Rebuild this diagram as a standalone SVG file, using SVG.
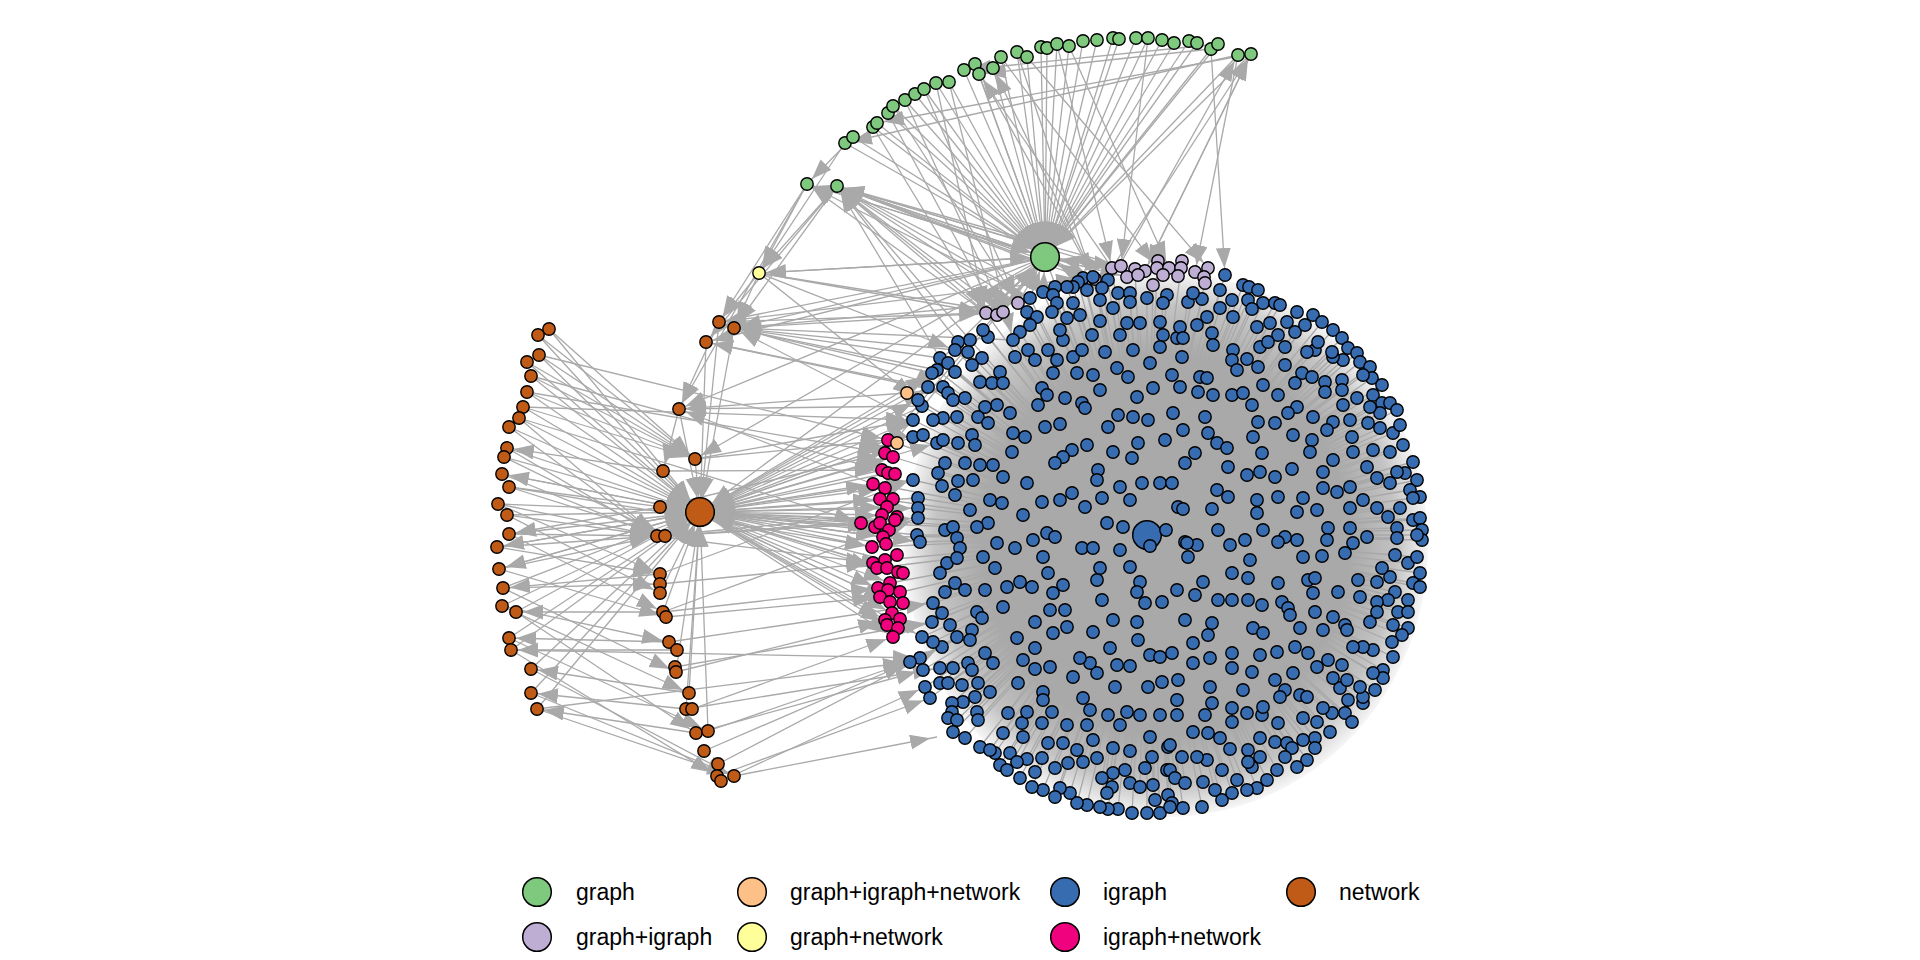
<svg xmlns="http://www.w3.org/2000/svg" width="1920" height="960" viewBox="0 0 1920 960">
<style>
.e{fill:none;stroke:#a9a9a9;stroke-width:1.3}
.ah path{marker-end:url(#ah)}
.as path{marker-end:url(#as)}
.lg{font-family:"Liberation Sans",Arial,Helvetica,sans-serif;font-size:23px;fill:#000}
.hub{stroke:#000;stroke-width:1.5}
</style>
<defs>
<marker id="as" markerUnits="userSpaceOnUse" markerWidth="21" markerHeight="16" refX="27" refY="7.5" orient="auto"><path d="M0,0L20,7.5L0,15Z" fill="#a9a9a9"/></marker>
<marker id="ah" markerUnits="userSpaceOnUse" markerWidth="21" markerHeight="16" refX="35" refY="7.5" orient="auto"><path d="M0,0L20,7.5L0,15Z" fill="#a9a9a9"/></marker>
<radialGradient id="dg"><stop offset="0" stop-color="#a9a9a9"/><stop offset="0.7" stop-color="#a9a9a9"/><stop offset="0.88" stop-color="#a9a9a9" stop-opacity="0.7"/><stop offset="1" stop-color="#a9a9a9" stop-opacity="0.1"/></radialGradient>
<circle id="n" r="6.2" stroke="#000" stroke-width="1.4"/>
</defs>
<rect width="1920" height="960" fill="#fff"/>
<g id="connectors" class="e">
<ellipse cx="1166" cy="545" rx="262" ry="272" fill="url(#dg)" stroke="none"/>
<path id="hub-edges" d="M1147 535 1083 278M1147 535 1093 277M1147 535 1108 280M1147 535 1102 288M1147 535 1118 293M1147 535 1130 293M1147 535 1147 298M1147 535 1167 295M1147 535 1163 303M1147 535 1130 302M1147 535 1100 300M1147 535 1087 290M1147 535 1078 282M1147 535 1073 287M1147 535 1067 287M1147 535 1055 287M1147 535 1043 292M1147 535 1053 295M1147 535 1030 298M1147 535 1057 303M1147 535 1073 303M1147 535 1080 315M1147 535 1052 312M1147 535 1027 312M1147 535 1037 317M1147 535 1067 318M1147 535 1100 321M1147 535 1113 308M1147 535 1127 323M1147 535 1140 323M1147 535 1160 322M1147 535 1163 335M1147 535 1160 347M1147 535 1177 338M1147 535 1120 335M1147 535 1092 335M1147 535 1063 340M1147 535 1060 330M1147 535 1030 325M1147 535 1020 332M1147 535 1013 340M1147 535 988 337M1147 535 983 330M1147 535 970 340M1147 535 958 342M1147 535 955 350M1147 535 940 358M1147 535 948 363M1147 535 968 352M1147 535 982 358M1147 535 972 365M1147 535 955 372M1147 535 937 370M1147 535 932 373M1147 535 928 387M1147 535 943 387M1147 535 948 393M1147 535 953 400M1147 535 965 398M1147 535 980 382M1147 535 992 383M1147 535 1000 372M1147 535 1003 383M1147 535 1015 357M1147 535 1028 350M1147 535 1035 360M1147 535 1048 350M1147 535 1057 360M1147 535 1073 357M1147 535 1082 350M1147 535 1053 373M1147 535 1077 373M1147 535 1093 375M1147 535 1117 368M1147 535 1128 377M1147 535 1105 352M1147 535 1133 350M1147 535 1150 363M1147 535 1172 375M1147 535 1180 387M1147 535 1153 388M1147 535 1137 397M1147 535 1100 390M1147 535 1082 403M1147 535 1085 408M1147 535 1065 398M1147 535 1042 388M1147 535 1047 395M1147 535 1038 405M1147 535 1010 413M1147 535 997 405M1147 535 985 407M1147 535 978 417M1147 535 988 423M1147 535 957 417M1147 535 943 418M1147 535 933 420M1147 535 922 406M1147 535 918 400M1147 535 913 420M1147 535 913 437M1147 535 923 435M1147 535 937 443M1147 535 943 440M1147 535 958 443M1147 535 972 435M1147 535 975 445M1147 535 1013 433M1147 535 1025 437M1147 535 1045 427M1147 535 1060 424M1147 535 1087 445M1147 535 1072 450M1147 535 1063 457M1147 535 1055 463M1147 535 1113 452M1147 535 1132 458M1147 535 1138 443M1147 535 1165 440M1147 535 1108 427M1147 535 1118 415M1147 535 1133 417M1147 535 1148 420M1147 535 1173 413M1147 535 1098 470M1147 535 1097 480M1147 535 1120 487M1147 535 1142 483M1147 535 1160 483M1147 535 1172 483M1147 535 1178 507M1147 535 1130 500M1147 535 1102 498M1147 535 1085 507M1147 535 1072 493M1147 535 1060 500M1147 535 1042 502M1147 535 1027 483M1147 535 1003 477M1147 535 993 465M1147 535 980 465M1147 535 965 463M1147 535 945 463M1147 535 938 473M1147 535 942 486M1147 535 958 481M1147 535 973 480M1147 535 955 495M1147 535 1012 452M1147 535 990 500M1147 535 1002 503M1147 535 970 510M1147 535 1023 515M1147 535 1047 533M1147 535 1055 537M1147 535 1033 540M1147 535 988 523M1147 535 977 527M1147 535 945 530M1147 535 953 527M1147 535 957 538M1147 535 917 535M1147 535 920 542M1147 535 913 480M1147 535 918 498M1147 535 918 508M1147 535 918 518M1147 535 1107 523M1147 535 1123 527M1147 535 1167 530M1147 535 997 543M1147 535 1015 548M1147 535 1225 275M1147 535 1220 290M1147 535 1232 300M1147 535 1243 285M1147 535 1249 287M1147 535 1258 290M1147 535 1248 300M1147 535 1263 303M1147 535 1252 309M1147 535 1233 317M1147 535 1220 308M1147 535 1202 299M1147 535 1188 302M1147 535 1193 293M1147 535 1207 317M1147 535 1197 325M1147 535 1180 327M1147 535 1183 338M1147 535 1212 333M1147 535 1213 345M1147 535 1182 357M1147 535 1233 350M1147 535 1232 360M1147 535 1247 359M1147 535 1237 370M1147 535 1258 367M1147 535 1260 347M1147 535 1257 327M1147 535 1270 323M1147 535 1275 303M1147 535 1280 305M1147 535 1297 312M1147 535 1287 322M1147 535 1295 332M1147 535 1305 325M1147 535 1313 315M1147 535 1322 322M1147 535 1333 330M1147 535 1342 338M1147 535 1348 348M1147 535 1357 353M1147 535 1360 362M1147 535 1370 367M1147 535 1372 378M1147 535 1382 385M1147 535 1363 375M1147 535 1343 360M1147 535 1333 357M1147 535 1332 352M1147 535 1315 350M1147 535 1307 352M1147 535 1318 342M1147 535 1278 335M1147 535 1285 347M1147 535 1285 365M1147 535 1268 342M1147 535 1302 373M1147 535 1312 377M1147 535 1295 383M1147 535 1325 382M1147 535 1325 392M1147 535 1342 380M1147 535 1342 390M1147 535 1357 398M1147 535 1373 395M1147 535 1382 403M1147 535 1390 403M1147 535 1397 410M1147 535 1380 413M1147 535 1370 407M1147 535 1343 405M1147 535 1333 422M1147 535 1327 430M1147 535 1313 417M1147 535 1297 407M1147 535 1288 413M1147 535 1278 395M1147 535 1263 385M1147 535 1252 405M1147 535 1232 395M1147 535 1243 393M1147 535 1213 395M1147 535 1198 392M1147 535 1200 377M1147 535 1207 378M1147 535 1183 430M1147 535 1205 417M1147 535 1208 433M1147 535 1217 443M1147 535 1227 448M1147 535 1195 453M1147 535 1185 463M1147 535 1228 467M1147 535 1247 475M1147 535 1260 472M1147 535 1275 477M1147 535 1292 469M1147 535 1262 453M1147 535 1253 437M1147 535 1258 422M1147 535 1275 423M1147 535 1293 435M1147 535 1312 440M1147 535 1310 452M1147 535 1333 460M1147 535 1323 472M1147 535 1353 452M1147 535 1352 437M1147 535 1350 420M1147 535 1368 423M1147 535 1380 428M1147 535 1393 433M1147 535 1400 425M1147 535 1403 445M1147 535 1413 462M1147 535 1405 473M1147 535 1390 452M1147 535 1373 450M1147 535 1367 467M1147 535 1377 478M1147 535 1390 483M1147 535 1397 472M1147 535 1417 480M1147 535 1410 490M1147 535 1420 497M1147 535 1413 498M1147 535 1400 508M1147 535 1388 517M1147 535 1377 508M1147 535 1363 500M1147 535 1350 508M1147 535 1350 487M1147 535 1337 492M1147 535 1323 488M1147 535 1303 498M1147 535 1297 512M1147 535 1317 510M1147 535 1328 528M1147 535 1327 540M1147 535 1350 528M1147 535 1367 537M1147 535 1353 543M1147 535 1397 528M1147 535 1397 538M1147 535 1413 520M1147 535 1420 518M1147 535 1422 530M1147 535 1422 540M1147 535 1417 535M1147 535 1297 540M1147 535 1285 537M1147 535 1278 542M1147 535 1263 530M1147 535 1245 540M1147 535 1218 530M1147 535 1197 545M1147 535 1185 542M1147 535 1212 509M1147 535 1228 497M1147 535 1217 490M1147 535 1183 509M1147 535 1257 500M1147 535 1257 513M1147 535 1278 497M1147 535 960 548M1147 535 947 563M1147 535 940 573M1147 535 955 583M1147 535 965 590M1147 535 945 592M1147 535 957 558M1147 535 983 557M1147 535 995 568M1147 535 1043 557M1147 535 1048 573M1147 535 1020 582M1147 535 1032 587M1147 535 1007 587M1147 535 985 590M1147 535 1003 607M1147 535 977 612M1147 535 982 618M1147 535 972 630M1147 535 970 640M1147 535 957 637M1147 535 942 647M1147 535 933 642M1147 535 922 637M1147 535 933 603M1147 535 942 613M1147 535 932 622M1147 535 950 625M1147 535 1053 593M1147 535 1063 585M1147 535 1050 610M1147 535 1065 610M1147 535 1067 627M1147 535 1053 633M1147 535 1035 622M1147 535 1017 638M1147 535 1035 648M1147 535 1023 660M1147 535 1035 669M1147 535 1050 667M1147 535 993 663M1147 535 985 653M1147 535 968 663M1147 535 972 670M1147 535 953 668M1147 535 940 668M1147 535 920 658M1147 535 910 662M1147 535 923 670M1147 535 925 687M1147 535 930 698M1147 535 940 683M1147 535 948 683M1147 535 962 685M1147 535 978 683M1147 535 990 692M1147 535 975 697M1147 535 963 702M1147 535 952 703M1147 535 952 712M1147 535 948 718M1147 535 957 720M1147 535 977 712M1147 535 978 720M1147 535 965 738M1147 535 953 732M1147 535 980 747M1147 535 995 753M1147 535 1003 733M1147 535 1008 713M1147 535 1022 723M1147 535 1023 737M1147 535 1027 712M1147 535 1018 683M1147 535 1043 692M1147 535 1043 700M1147 535 1052 712M1147 535 1042 723M1147 535 1067 725M1147 535 1048 743M1147 535 1063 743M1147 535 1077 750M1147 535 1068 763M1147 535 1083 762M1147 535 1097 758M1147 535 1093 740M1147 535 1087 725M1147 535 1090 710M1147 535 1083 698M1147 535 1073 677M1147 535 1097 673M1147 535 1090 663M1147 535 1080 658M1147 535 1115 687M1147 535 1117 665M1147 535 1130 666M1147 535 1148 687M1147 535 1162 682M1147 535 1150 655M1147 535 1160 657M1147 535 1172 653M1147 535 1177 700M1147 535 1160 715M1147 535 1140 715M1147 535 1127 712M1147 535 1120 725M1147 535 1108 715M1147 535 1150 737M1147 535 1168 747M1147 535 1113 748M1147 535 1130 751M1147 535 1152 757M1147 535 1145 768M1147 535 1125 770M1147 535 1113 773M1147 535 1102 778M1147 535 1112 787M1147 535 1107 793M1147 535 1130 783M1147 535 1140 787M1147 535 1153 785M1147 535 1167 770M1147 535 1155 800M1147 535 1168 795M1147 535 1172 803M1147 535 1160 813M1147 535 1147 813M1147 535 1132 813M1147 535 1118 809M1147 535 1108 809M1147 535 1100 807M1147 535 1087 805M1147 535 1077 803M1147 535 1070 793M1147 535 1060 788M1147 535 1055 797M1147 535 1043 790M1147 535 1032 787M1147 535 1020 778M1147 535 1035 772M1147 535 1055 768M1147 535 1042 758M1147 535 1027 759M1147 535 1010 753M1147 535 1000 765M1147 535 1007 770M1147 535 1017 762M1147 535 990 750M1147 535 1102 600M1147 535 1097 580M1147 535 1100 568M1147 535 1130 567M1147 535 1140 582M1147 535 1137 592M1147 535 1145 603M1147 535 1162 602M1147 535 1177 590M1147 535 1137 622M1147 535 1138 640M1147 535 1113 620M1147 535 1093 632M1147 535 1110 648M1147 535 1082 548M1147 535 1093 548M1147 535 1120 550M1147 535 1187 543M1147 535 1188 557M1147 535 1230 545M1147 535 1345 553M1147 535 1322 556M1147 535 1303 557M1147 535 1250 560M1147 535 1232 573M1147 535 1248 578M1147 535 1278 583M1147 535 1308 580M1147 535 1315 578M1147 535 1313 593M1147 535 1338 592M1147 535 1358 580M1147 535 1360 597M1147 535 1377 582M1147 535 1390 577M1147 535 1382 568M1147 535 1395 555M1147 535 1408 563M1147 535 1417 557M1147 535 1420 573M1147 535 1413 583M1147 535 1420 587M1147 535 1408 600M1147 535 1395 592M1147 535 1388 600M1147 535 1377 602M1147 535 1370 622M1147 535 1377 612M1147 535 1398 612M1147 535 1408 612M1147 535 1393 625M1147 535 1408 628M1147 535 1402 635M1147 535 1392 642M1147 535 1393 657M1147 535 1383 670M1147 535 1373 650M1147 535 1363 647M1147 535 1353 647M1147 535 1342 665M1147 535 1328 660M1147 535 1317 667M1147 535 1308 653M1147 535 1295 647M1147 535 1293 673M1147 535 1300 695M1147 535 1307 697M1147 535 1285 690M1147 535 1280 697M1147 535 1275 680M1147 535 1260 655M1147 535 1277 652M1147 535 1252 672M1147 535 1232 668M1147 535 1232 653M1147 535 1210 658M1147 535 1193 663M1147 535 1193 643M1147 535 1178 680M1147 535 1210 687M1147 535 1243 690M1147 535 1247 713M1147 535 1262 715M1147 535 1263 707M1147 535 1232 708M1147 535 1232 722M1147 535 1212 703M1147 535 1205 715M1147 535 1177 715M1147 535 1193 732M1147 535 1208 733M1147 535 1220 738M1147 535 1230 749M1147 535 1248 750M1147 535 1260 738M1147 535 1275 742M1147 535 1278 723M1147 535 1303 718M1147 535 1317 722M1147 535 1332 713M1147 535 1323 708M1147 535 1345 713M1147 535 1352 722M1147 535 1363 703M1147 535 1363 697M1147 535 1348 700M1147 535 1340 688M1147 535 1347 680M1147 535 1333 678M1147 535 1360 687M1147 535 1375 690M1147 535 1383 678M1147 535 1373 673M1147 535 1330 732M1147 535 1315 738M1147 535 1303 740M1147 535 1287 743M1147 535 1292 748M1147 535 1285 757M1147 535 1307 760M1147 535 1297 767M1147 535 1277 770M1147 535 1267 780M1147 535 1257 788M1147 535 1247 790M1147 535 1237 780M1147 535 1222 770M1147 535 1207 760M1147 535 1197 757M1147 535 1182 757M1147 535 1170 745M1147 535 1170 770M1147 535 1175 778M1147 535 1185 783M1147 535 1203 782M1147 535 1215 790M1147 535 1222 800M1147 535 1232 793M1147 535 1202 807M1147 535 1183 808M1147 535 1170 807M1147 535 1252 767M1147 535 1248 762M1147 535 1260 757M1147 535 1315 748M1147 535 1323 630M1147 535 1345 625M1147 535 1347 630M1147 535 1300 628M1147 535 1253 628M1147 535 1263 633M1147 535 1208 635M1147 535 1212 623M1147 535 1185 620M1147 535 1203 582M1147 535 1195 595M1147 535 1218 600M1147 535 1232 600M1147 535 1248 600M1147 535 1262 605M1147 535 1282 602M1147 535 1288 608M1147 535 1290 615M1147 535 1315 612M1147 535 1333 617M1147 535 888 440M1147 535 893 457M1147 535 873 484M1147 535 880 499M1147 535 861 523M1147 535 883 537M1147 535 872 547M1147 535 885 560M1147 535 877 568M1147 535 890 583M1147 535 880 597M1147 535 892 613M1147 535 893 637M1147 535 907 393M1147 535 897 443M1147 535 1112 268M1147 535 1135 269M1147 535 1157 268M1147 535 1181 268M1147 535 1205 283M1147 535 1153 285M1147 535 1095 279M1147 535 986 313M1147 535 1018 303M1147 535 700 512M1147 535 1045 257"/>
<g class="ah">
<path d="M845 143L1045 257"/><path d="M853 137L1045 257"/><path d="M873 127L1045 257"/><path d="M877 123L1045 257"/><path d="M888 113L1045 257"/><path d="M893 106L1045 257"/><path d="M905 100L1045 257"/><path d="M915 94L1045 257"/><path d="M924 89L1045 257"/><path d="M936 83L1045 257"/><path d="M949 82L1045 257"/><path d="M964 70L1045 257"/><path d="M975 64L1045 257"/><path d="M979 74L1045 257"/><path d="M993 68L1045 257"/><path d="M1001 57L1045 257"/><path d="M1017 52L1045 257"/><path d="M1027 57L1045 257"/><path d="M1041 47L1045 257"/><path d="M1047 48L1045 257"/><path d="M1057 44L1045 257"/><path d="M1069 46L1045 257"/><path d="M1083 41L1045 257"/><path d="M1097 40L1045 257"/><path d="M1113 38L1045 257"/><path d="M1119 39L1045 257"/><path d="M1136 38L1045 257"/><path d="M1148 38L1045 257"/><path d="M1162 40L1045 257"/><path d="M1174 43L1045 257"/><path d="M1189 41L1045 257"/><path d="M1197 43L1045 257"/><path d="M1211 49L1045 257"/><path d="M1218 44L1045 257"/><path d="M1238 55L1045 257"/><path d="M1251 54L1045 257"/><path d="M807 184L1045 257"/><path d="M837 186L1045 257"/>
<path d="M986 313L1045 257"/><path d="M1003 312L1045 257"/><path d="M1018 303L1045 257"/><path d="M1030 298L1045 257"/><path d="M1043 292L1045 257"/><path d="M759 273L1045 257"/><path d="M1112 268L1045 257"/><path d="M1083 278L1045 257"/>
<path d="M549 329L700 512"/><path d="M538 335L700 512"/><path d="M539 355L700 512"/><path d="M527 362L700 512"/><path d="M531 376L700 512"/><path d="M527 392L700 512"/><path d="M523 407L700 512"/><path d="M519 418L700 512"/><path d="M509 427L700 512"/><path d="M507 448L700 512"/><path d="M504 457L700 512"/><path d="M502 474L700 512"/><path d="M509 487L700 512"/><path d="M498 504L700 512"/><path d="M507 515L700 512"/><path d="M509 534L700 512"/><path d="M497 547L700 512"/><path d="M499 569L700 512"/><path d="M503 588L700 512"/><path d="M502 606L700 512"/><path d="M516 612L700 512"/><path d="M509 638L700 512"/><path d="M511 650L700 512"/><path d="M531 669L700 512"/><path d="M531 693L700 512"/><path d="M537 709L700 512"/>
<path d="M719 322L700 512"/><path d="M734 328L700 512"/><path d="M706 342L700 512"/><path d="M679 409L700 512"/><path d="M695 459L700 512"/><path d="M663 471L700 512"/><path d="M882 470L700 512"/><path d="M885 560L700 512"/><path d="M873 563L700 512"/><path d="M861 523L700 512"/><path d="M880 597L700 512"/><path d="M913 437L700 512"/><path d="M918 498L700 512"/><path d="M1045 257L700 512"/><path d="M660 593L700 512"/><path d="M663 612L700 512"/><path d="M676 672L700 512"/><path d="M888 473L700 512"/><path d="M895 520L700 512"/><path d="M886 544L700 512"/><path d="M907 393L700 512"/><path d="M922 406L700 512"/><path d="M917 535L700 512"/><path d="M689 693L700 512"/><path d="M686 709L700 512"/><path d="M708 731L700 512"/>
</g>
<g class="as">
<path d="M1045 257L807 184"/><path d="M1045 257L837 186"/><path d="M1040 264L837 186"/><path d="M1050 250L837 186"/><path d="M986 313L837 186"/><path d="M997 315L837 186"/><path d="M1003 312L837 186"/><path d="M1018 303L837 186"/><path d="M1095 279L837 186"/><path d="M1112 268L837 186"/><path d="M1083 278L837 186"/><path d="M958 342L837 186"/><path d="M970 340L837 186"/><path d="M940 358L837 186"/><path d="M1030 298L807 184"/><path d="M986 313L807 184"/><path d="M1121 266L837 186"/><path d="M1043 292L837 186"/><path d="M1030 298L837 186"/>
<path d="M807 184L759 273"/><path d="M837 186L759 273"/><path d="M807 184L719 322"/><path d="M837 186L734 328"/><path d="M837 186L706 342"/><path d="M807 184L679 409"/><path d="M845 143L759 273"/><path d="M853 137L807 184"/>
<path d="M759 273L734 328"/><path d="M759 273L719 322"/><path d="M759 273L1003 312"/><path d="M759 273L955 350"/><path d="M759 273L918 400"/><path d="M759 273L986 313"/>
<path d="M1045 257L1112 268"/><path d="M1045 257L1121 266"/><path d="M1045 257L1127 277"/><path d="M1045 257L1095 279"/><path d="M1045 257L734 328"/><path d="M1045 257L706 342"/><path d="M1045 257L679 409"/><path d="M1045 257L695 459"/><path d="M1045 257L759 273"/><path d="M1045 257L888 440"/><path d="M1045 257L885 453"/><path d="M1045 257L719 322"/><path d="M1045 257L907 393"/><path d="M1045 257L986 313"/><path d="M1045 257L1003 312"/>
<path d="M1148 38L1121 266"/><path d="M1069 46L1169 268"/><path d="M1027 57L1208 268"/><path d="M1001 57L1157 268"/><path d="M1251 54L1145 271"/><path d="M1238 55L1195 272"/><path d="M1211 49L1225 275"/><path d="M975 64L1095 279"/><path d="M873 127L986 313"/><path d="M888 113L997 315"/><path d="M905 100L1003 312"/><path d="M924 89L1018 303"/><path d="M949 82L1013 340"/><path d="M1017 52L1100 300"/><path d="M893 106L1018 303"/><path d="M936 83L986 313"/><path d="M1057 44L1112 268"/>
<path d="M1251 54L877 123"/><path d="M1238 55L845 143"/><path d="M1218 44L964 70"/><path d="M1211 49L979 74"/><path d="M1145 271L1251 54"/><path d="M1112 268L1251 54"/><path d="M1100 300L1238 55"/><path d="M1112 268L979 74"/><path d="M1095 279L993 68"/>
<path d="M549 329L695 459"/><path d="M538 335L695 459"/><path d="M539 355L695 459"/><path d="M527 362L695 459"/><path d="M531 376L695 459"/><path d="M527 392L695 459"/><path d="M523 407L695 459"/>
<path d="M507 448L657 536"/><path d="M502 474L657 536"/><path d="M498 504L657 536"/><path d="M507 515L657 536"/><path d="M509 534L657 536"/><path d="M519 418L657 536"/><path d="M509 427L657 536"/><path d="M504 457L665 536"/><path d="M509 487L665 536"/><path d="M497 547L657 536"/><path d="M499 569L657 536"/>
<path d="M497 547L660 574"/><path d="M499 569L666 617"/><path d="M503 588L676 672"/><path d="M502 606L689 693"/><path d="M516 612L696 733"/><path d="M509 638L708 731"/><path d="M511 650L717 776"/><path d="M531 669L734 776"/><path d="M531 693L734 776"/><path d="M537 709L734 776"/><path d="M498 504L660 574"/><path d="M507 515L660 593"/><path d="M509 534L663 612"/><path d="M502 606L669 642"/><path d="M503 588L660 584"/>
<path d="M537 709L910 662"/><path d="M511 650L920 658"/><path d="M509 487L873 547"/><path d="M527 392L885 453"/><path d="M519 418L861 523"/><path d="M523 407L913 420"/><path d="M539 355L888 440"/><path d="M531 376L882 470"/>
<path d="M700 512L497 547"/><path d="M700 512L499 569"/><path d="M660 574L503 588"/><path d="M663 612L516 612"/><path d="M669 642L509 638"/><path d="M677 650L511 650"/><path d="M689 693L531 669"/><path d="M686 709L531 693"/><path d="M696 733L537 709"/><path d="M700 512L502 474"/><path d="M660 507L509 534"/><path d="M663 471L507 448"/>
<path d="M700 512L888 440"/><path d="M700 512L893 457"/><path d="M700 512L873 484"/><path d="M700 512L885 488"/><path d="M700 512L880 499"/><path d="M700 512L887 507"/><path d="M700 512L882 515"/><path d="M700 512L875 527"/><path d="M700 512L889 530"/><path d="M700 512L883 537"/><path d="M700 512L872 547"/><path d="M700 512L877 568"/><path d="M700 512L887 568"/><path d="M700 512L890 583"/><path d="M700 512L878 588"/><path d="M700 512L890 602"/><path d="M700 512L892 613"/><path d="M700 512L885 620"/><path d="M700 512L887 625"/><path d="M700 512L893 637"/>
<path d="M700 512L913 420"/><path d="M700 512L918 400"/><path d="M700 512L920 542"/><path d="M700 512L922 637"/><path d="M700 512L913 480"/><path d="M700 512L918 508"/><path d="M700 512L932 373"/><path d="M700 512L928 387"/><path d="M700 512L937 443"/><path d="M700 512L897 443"/>
<path d="M657 536L873 563"/><path d="M665 536L880 523"/><path d="M657 536L882 515"/><path d="M695 459L888 440"/><path d="M695 459L913 420"/><path d="M660 507L885 453"/><path d="M663 471L882 470"/><path d="M665 536L918 518"/>
<path d="M932 373L734 328"/><path d="M937 370L734 328"/><path d="M913 420L734 328"/><path d="M955 350L734 328"/><path d="M1013 340L734 328"/><path d="M940 358L734 328"/><path d="M922 406L679 409"/><path d="M907 393L679 409"/><path d="M873 484L679 409"/><path d="M719 322L943 387"/><path d="M706 342L948 393"/><path d="M719 322L679 409"/><path d="M679 409L663 471"/><path d="M734 328L986 313"/><path d="M734 328L1018 303"/><path d="M719 322L1083 278"/><path d="M986 313L719 322"/><path d="M928 387L706 342"/>
<path d="M660 574L913 480"/><path d="M663 612L918 518"/><path d="M669 642L933 603"/><path d="M686 709L940 668"/><path d="M696 733L923 670"/><path d="M734 776L937 737"/><path d="M721 781L925 687"/><path d="M717 776L930 698"/><path d="M704 751L910 662"/><path d="M708 731L920 658"/><path d="M718 764L942 647"/><path d="M675 667L932 622"/>
<path d="M660 584L873 563"/><path d="M663 612L878 588"/><path d="M676 672L885 620"/><path d="M692 709L893 637"/><path d="M666 617L880 597"/>
</g>
</g>
<g id="nodes-graph" fill="#7fc97f">
<use href="#n" x="845" y="143"/><use href="#n" x="853" y="137"/><use href="#n" x="873" y="127"/><use href="#n" x="877" y="123"/><use href="#n" x="888" y="113"/><use href="#n" x="893" y="106"/><use href="#n" x="905" y="100"/><use href="#n" x="915" y="94"/><use href="#n" x="924" y="89"/><use href="#n" x="936" y="83"/><use href="#n" x="949" y="82"/><use href="#n" x="964" y="70"/><use href="#n" x="975" y="64"/><use href="#n" x="979" y="74"/><use href="#n" x="993" y="68"/><use href="#n" x="1001" y="57"/><use href="#n" x="1017" y="52"/><use href="#n" x="1027" y="57"/><use href="#n" x="1041" y="47"/><use href="#n" x="1047" y="48"/><use href="#n" x="1057" y="44"/><use href="#n" x="1069" y="46"/><use href="#n" x="1083" y="41"/><use href="#n" x="1097" y="40"/><use href="#n" x="1113" y="38"/><use href="#n" x="1119" y="39"/><use href="#n" x="1136" y="38"/><use href="#n" x="1148" y="38"/><use href="#n" x="1162" y="40"/><use href="#n" x="1174" y="43"/><use href="#n" x="1189" y="41"/><use href="#n" x="1197" y="43"/><use href="#n" x="1211" y="49"/><use href="#n" x="1218" y="44"/><use href="#n" x="1238" y="55"/><use href="#n" x="1251" y="54"/><use href="#n" x="807" y="184"/><use href="#n" x="837" y="186"/>
</g>
<g id="hub-graph"><circle class="hub" cx="1045" cy="257" r="14.3" fill="#7fc97f"/></g>
<g id="nodes-graph-network" fill="#ffff99"><use href="#n" x="759" y="273"/></g>
<g id="nodes-network" fill="#bf5b17">
<use href="#n" x="549" y="329"/><use href="#n" x="538" y="335"/><use href="#n" x="539" y="355"/><use href="#n" x="527" y="362"/><use href="#n" x="531" y="376"/><use href="#n" x="527" y="392"/><use href="#n" x="523" y="407"/><use href="#n" x="519" y="418"/><use href="#n" x="509" y="427"/><use href="#n" x="507" y="448"/><use href="#n" x="504" y="457"/><use href="#n" x="502" y="474"/><use href="#n" x="509" y="487"/><use href="#n" x="498" y="504"/><use href="#n" x="507" y="515"/><use href="#n" x="509" y="534"/><use href="#n" x="497" y="547"/><use href="#n" x="499" y="569"/><use href="#n" x="503" y="588"/><use href="#n" x="502" y="606"/><use href="#n" x="516" y="612"/><use href="#n" x="509" y="638"/><use href="#n" x="511" y="650"/><use href="#n" x="531" y="669"/><use href="#n" x="531" y="693"/><use href="#n" x="537" y="709"/>
<use href="#n" x="719" y="322"/><use href="#n" x="734" y="328"/><use href="#n" x="706" y="342"/><use href="#n" x="679" y="409"/><use href="#n" x="695" y="459"/><use href="#n" x="663" y="471"/><use href="#n" x="660" y="507"/><use href="#n" x="657" y="536"/><use href="#n" x="665" y="536"/><use href="#n" x="660" y="574"/><use href="#n" x="660" y="584"/><use href="#n" x="660" y="593"/><use href="#n" x="663" y="612"/><use href="#n" x="666" y="617"/><use href="#n" x="669" y="642"/><use href="#n" x="677" y="650"/><use href="#n" x="675" y="667"/><use href="#n" x="676" y="672"/><use href="#n" x="689" y="693"/><use href="#n" x="686" y="709"/><use href="#n" x="692" y="709"/><use href="#n" x="696" y="733"/><use href="#n" x="708" y="731"/><use href="#n" x="704" y="751"/><use href="#n" x="718" y="764"/><use href="#n" x="717" y="776"/><use href="#n" x="721" y="781"/><use href="#n" x="734" y="776"/>
</g>
<g id="hub-network"><circle class="hub" cx="700" cy="512" r="14.3" fill="#bf5b17"/></g>
<g id="nodes-graph-igraph" fill="#beaed4">
<use href="#n" x="1112" y="268"/><use href="#n" x="1121" y="266"/><use href="#n" x="1135" y="269"/><use href="#n" x="1145" y="271"/><use href="#n" x="1158" y="261"/><use href="#n" x="1157" y="268"/><use href="#n" x="1169" y="268"/><use href="#n" x="1182" y="261"/><use href="#n" x="1181" y="268"/><use href="#n" x="1195" y="272"/><use href="#n" x="1208" y="268"/><use href="#n" x="1204" y="277"/><use href="#n" x="1205" y="283"/><use href="#n" x="1153" y="285"/><use href="#n" x="1127" y="277"/><use href="#n" x="1138" y="275"/><use href="#n" x="1163" y="275"/><use href="#n" x="1178" y="276"/><use href="#n" x="1095" y="279"/><use href="#n" x="1018" y="303"/><use href="#n" x="986" y="313"/><use href="#n" x="997" y="315"/><use href="#n" x="1003" y="312"/>
</g>
<g id="nodes-igraph" fill="#386cb0">
<use href="#n" x="1083" y="278"/><use href="#n" x="1093" y="277"/><use href="#n" x="1108" y="280"/><use href="#n" x="1102" y="288"/><use href="#n" x="1118" y="293"/><use href="#n" x="1130" y="293"/><use href="#n" x="1147" y="298"/><use href="#n" x="1167" y="295"/><use href="#n" x="1163" y="303"/><use href="#n" x="1130" y="302"/><use href="#n" x="1100" y="300"/><use href="#n" x="1087" y="290"/><use href="#n" x="1078" y="282"/><use href="#n" x="1073" y="287"/><use href="#n" x="1067" y="287"/><use href="#n" x="1055" y="287"/><use href="#n" x="1043" y="292"/><use href="#n" x="1053" y="295"/><use href="#n" x="1030" y="298"/><use href="#n" x="1057" y="303"/><use href="#n" x="1073" y="303"/><use href="#n" x="1080" y="315"/><use href="#n" x="1052" y="312"/><use href="#n" x="1027" y="312"/><use href="#n" x="1037" y="317"/><use href="#n" x="1067" y="318"/><use href="#n" x="1100" y="321"/><use href="#n" x="1113" y="308"/><use href="#n" x="1127" y="323"/><use href="#n" x="1140" y="323"/><use href="#n" x="1160" y="322"/><use href="#n" x="1163" y="335"/><use href="#n" x="1160" y="347"/><use href="#n" x="1177" y="338"/><use href="#n" x="1120" y="335"/><use href="#n" x="1092" y="335"/><use href="#n" x="1063" y="340"/><use href="#n" x="1060" y="330"/><use href="#n" x="1030" y="325"/><use href="#n" x="1020" y="332"/><use href="#n" x="1013" y="340"/><use href="#n" x="988" y="337"/><use href="#n" x="983" y="330"/><use href="#n" x="970" y="340"/><use href="#n" x="958" y="342"/><use href="#n" x="955" y="350"/><use href="#n" x="940" y="358"/><use href="#n" x="948" y="363"/><use href="#n" x="968" y="352"/><use href="#n" x="982" y="358"/><use href="#n" x="972" y="365"/><use href="#n" x="955" y="372"/><use href="#n" x="937" y="370"/><use href="#n" x="932" y="373"/><use href="#n" x="928" y="387"/><use href="#n" x="943" y="387"/><use href="#n" x="948" y="393"/><use href="#n" x="953" y="400"/><use href="#n" x="965" y="398"/><use href="#n" x="980" y="382"/><use href="#n" x="992" y="383"/><use href="#n" x="1000" y="372"/><use href="#n" x="1003" y="383"/><use href="#n" x="1015" y="357"/><use href="#n" x="1028" y="350"/><use href="#n" x="1035" y="360"/><use href="#n" x="1048" y="350"/><use href="#n" x="1057" y="360"/><use href="#n" x="1073" y="357"/><use href="#n" x="1082" y="350"/><use href="#n" x="1053" y="373"/><use href="#n" x="1077" y="373"/><use href="#n" x="1093" y="375"/><use href="#n" x="1117" y="368"/><use href="#n" x="1128" y="377"/><use href="#n" x="1105" y="352"/><use href="#n" x="1133" y="350"/><use href="#n" x="1150" y="363"/><use href="#n" x="1172" y="375"/><use href="#n" x="1180" y="387"/><use href="#n" x="1153" y="388"/><use href="#n" x="1137" y="397"/><use href="#n" x="1100" y="390"/><use href="#n" x="1082" y="403"/><use href="#n" x="1085" y="408"/><use href="#n" x="1065" y="398"/><use href="#n" x="1042" y="388"/><use href="#n" x="1047" y="395"/><use href="#n" x="1038" y="405"/><use href="#n" x="1010" y="413"/><use href="#n" x="997" y="405"/><use href="#n" x="985" y="407"/><use href="#n" x="978" y="417"/><use href="#n" x="988" y="423"/><use href="#n" x="957" y="417"/><use href="#n" x="943" y="418"/><use href="#n" x="933" y="420"/><use href="#n" x="922" y="406"/><use href="#n" x="918" y="400"/><use href="#n" x="913" y="420"/><use href="#n" x="913" y="437"/><use href="#n" x="923" y="435"/><use href="#n" x="937" y="443"/><use href="#n" x="943" y="440"/><use href="#n" x="958" y="443"/><use href="#n" x="972" y="435"/><use href="#n" x="975" y="445"/><use href="#n" x="1013" y="433"/><use href="#n" x="1025" y="437"/><use href="#n" x="1045" y="427"/><use href="#n" x="1060" y="424"/><use href="#n" x="1087" y="445"/><use href="#n" x="1072" y="450"/><use href="#n" x="1063" y="457"/><use href="#n" x="1055" y="463"/><use href="#n" x="1113" y="452"/><use href="#n" x="1132" y="458"/><use href="#n" x="1138" y="443"/><use href="#n" x="1165" y="440"/><use href="#n" x="1108" y="427"/><use href="#n" x="1118" y="415"/><use href="#n" x="1133" y="417"/><use href="#n" x="1148" y="420"/><use href="#n" x="1173" y="413"/><use href="#n" x="1098" y="470"/><use href="#n" x="1097" y="480"/><use href="#n" x="1120" y="487"/><use href="#n" x="1142" y="483"/><use href="#n" x="1160" y="483"/><use href="#n" x="1172" y="483"/><use href="#n" x="1178" y="507"/><use href="#n" x="1130" y="500"/><use href="#n" x="1102" y="498"/><use href="#n" x="1085" y="507"/><use href="#n" x="1072" y="493"/><use href="#n" x="1060" y="500"/><use href="#n" x="1042" y="502"/><use href="#n" x="1027" y="483"/><use href="#n" x="1003" y="477"/><use href="#n" x="993" y="465"/><use href="#n" x="980" y="465"/><use href="#n" x="965" y="463"/><use href="#n" x="945" y="463"/><use href="#n" x="938" y="473"/><use href="#n" x="942" y="486"/><use href="#n" x="958" y="481"/><use href="#n" x="973" y="480"/><use href="#n" x="955" y="495"/><use href="#n" x="1012" y="452"/><use href="#n" x="990" y="500"/><use href="#n" x="1002" y="503"/><use href="#n" x="970" y="510"/><use href="#n" x="1023" y="515"/><use href="#n" x="1047" y="533"/><use href="#n" x="1055" y="537"/><use href="#n" x="1033" y="540"/><use href="#n" x="988" y="523"/><use href="#n" x="977" y="527"/><use href="#n" x="945" y="530"/><use href="#n" x="953" y="527"/><use href="#n" x="957" y="538"/><use href="#n" x="917" y="535"/><use href="#n" x="920" y="542"/><use href="#n" x="913" y="480"/><use href="#n" x="918" y="498"/><use href="#n" x="918" y="508"/><use href="#n" x="918" y="518"/><use href="#n" x="1107" y="523"/><use href="#n" x="1123" y="527"/><use href="#n" x="997" y="543"/><use href="#n" x="1015" y="548"/>
<use href="#n" x="1225" y="275"/><use href="#n" x="1220" y="290"/><use href="#n" x="1232" y="300"/><use href="#n" x="1243" y="285"/><use href="#n" x="1249" y="287"/><use href="#n" x="1258" y="290"/><use href="#n" x="1248" y="300"/><use href="#n" x="1263" y="303"/><use href="#n" x="1252" y="309"/><use href="#n" x="1233" y="317"/><use href="#n" x="1220" y="308"/><use href="#n" x="1202" y="299"/><use href="#n" x="1188" y="302"/><use href="#n" x="1193" y="293"/><use href="#n" x="1207" y="317"/><use href="#n" x="1197" y="325"/><use href="#n" x="1180" y="327"/><use href="#n" x="1183" y="338"/><use href="#n" x="1212" y="333"/><use href="#n" x="1213" y="345"/><use href="#n" x="1182" y="357"/><use href="#n" x="1233" y="350"/><use href="#n" x="1232" y="360"/><use href="#n" x="1247" y="359"/><use href="#n" x="1237" y="370"/><use href="#n" x="1258" y="367"/><use href="#n" x="1260" y="347"/><use href="#n" x="1257" y="327"/><use href="#n" x="1270" y="323"/><use href="#n" x="1275" y="303"/><use href="#n" x="1280" y="305"/><use href="#n" x="1297" y="312"/><use href="#n" x="1287" y="322"/><use href="#n" x="1295" y="332"/><use href="#n" x="1305" y="325"/><use href="#n" x="1313" y="315"/><use href="#n" x="1322" y="322"/><use href="#n" x="1333" y="330"/><use href="#n" x="1342" y="338"/><use href="#n" x="1348" y="348"/><use href="#n" x="1357" y="353"/><use href="#n" x="1360" y="362"/><use href="#n" x="1370" y="367"/><use href="#n" x="1372" y="378"/><use href="#n" x="1382" y="385"/><use href="#n" x="1363" y="375"/><use href="#n" x="1343" y="360"/><use href="#n" x="1333" y="357"/><use href="#n" x="1332" y="352"/><use href="#n" x="1315" y="350"/><use href="#n" x="1307" y="352"/><use href="#n" x="1318" y="342"/><use href="#n" x="1278" y="335"/><use href="#n" x="1285" y="347"/><use href="#n" x="1285" y="365"/><use href="#n" x="1268" y="342"/><use href="#n" x="1302" y="373"/><use href="#n" x="1312" y="377"/><use href="#n" x="1295" y="383"/><use href="#n" x="1325" y="382"/><use href="#n" x="1325" y="392"/><use href="#n" x="1342" y="380"/><use href="#n" x="1342" y="390"/><use href="#n" x="1357" y="398"/><use href="#n" x="1373" y="395"/><use href="#n" x="1382" y="403"/><use href="#n" x="1390" y="403"/><use href="#n" x="1397" y="410"/><use href="#n" x="1380" y="413"/><use href="#n" x="1370" y="407"/><use href="#n" x="1343" y="405"/><use href="#n" x="1333" y="422"/><use href="#n" x="1327" y="430"/><use href="#n" x="1313" y="417"/><use href="#n" x="1297" y="407"/><use href="#n" x="1288" y="413"/><use href="#n" x="1278" y="395"/><use href="#n" x="1263" y="385"/><use href="#n" x="1252" y="405"/><use href="#n" x="1232" y="395"/><use href="#n" x="1243" y="393"/><use href="#n" x="1213" y="395"/><use href="#n" x="1198" y="392"/><use href="#n" x="1200" y="377"/><use href="#n" x="1207" y="378"/><use href="#n" x="1183" y="430"/><use href="#n" x="1205" y="417"/><use href="#n" x="1208" y="433"/><use href="#n" x="1217" y="443"/><use href="#n" x="1227" y="448"/><use href="#n" x="1195" y="453"/><use href="#n" x="1185" y="463"/><use href="#n" x="1228" y="467"/><use href="#n" x="1247" y="475"/><use href="#n" x="1260" y="472"/><use href="#n" x="1275" y="477"/><use href="#n" x="1292" y="469"/><use href="#n" x="1262" y="453"/><use href="#n" x="1253" y="437"/><use href="#n" x="1258" y="422"/><use href="#n" x="1275" y="423"/><use href="#n" x="1293" y="435"/><use href="#n" x="1312" y="440"/><use href="#n" x="1310" y="452"/><use href="#n" x="1333" y="460"/><use href="#n" x="1323" y="472"/><use href="#n" x="1353" y="452"/><use href="#n" x="1352" y="437"/><use href="#n" x="1350" y="420"/><use href="#n" x="1368" y="423"/><use href="#n" x="1380" y="428"/><use href="#n" x="1393" y="433"/><use href="#n" x="1400" y="425"/><use href="#n" x="1403" y="445"/><use href="#n" x="1413" y="462"/><use href="#n" x="1405" y="473"/><use href="#n" x="1390" y="452"/><use href="#n" x="1373" y="450"/><use href="#n" x="1367" y="467"/><use href="#n" x="1377" y="478"/><use href="#n" x="1390" y="483"/><use href="#n" x="1397" y="472"/><use href="#n" x="1417" y="480"/><use href="#n" x="1410" y="490"/><use href="#n" x="1420" y="497"/><use href="#n" x="1413" y="498"/><use href="#n" x="1400" y="508"/><use href="#n" x="1388" y="517"/><use href="#n" x="1377" y="508"/><use href="#n" x="1363" y="500"/><use href="#n" x="1350" y="508"/><use href="#n" x="1350" y="487"/><use href="#n" x="1337" y="492"/><use href="#n" x="1323" y="488"/><use href="#n" x="1303" y="498"/><use href="#n" x="1297" y="512"/><use href="#n" x="1317" y="510"/><use href="#n" x="1328" y="528"/><use href="#n" x="1327" y="540"/><use href="#n" x="1350" y="528"/><use href="#n" x="1367" y="537"/><use href="#n" x="1353" y="543"/><use href="#n" x="1397" y="528"/><use href="#n" x="1397" y="538"/><use href="#n" x="1413" y="520"/><use href="#n" x="1420" y="518"/><use href="#n" x="1422" y="530"/><use href="#n" x="1422" y="540"/><use href="#n" x="1417" y="535"/><use href="#n" x="1297" y="540"/><use href="#n" x="1285" y="537"/><use href="#n" x="1278" y="542"/><use href="#n" x="1263" y="530"/><use href="#n" x="1245" y="540"/><use href="#n" x="1218" y="530"/><use href="#n" x="1197" y="545"/><use href="#n" x="1185" y="542"/><use href="#n" x="1212" y="509"/><use href="#n" x="1228" y="497"/><use href="#n" x="1217" y="490"/><use href="#n" x="1183" y="509"/><use href="#n" x="1257" y="500"/><use href="#n" x="1257" y="513"/><use href="#n" x="1278" y="497"/>
<use href="#n" x="960" y="548"/><use href="#n" x="947" y="563"/><use href="#n" x="940" y="573"/><use href="#n" x="955" y="583"/><use href="#n" x="965" y="590"/><use href="#n" x="945" y="592"/><use href="#n" x="957" y="558"/><use href="#n" x="983" y="557"/><use href="#n" x="995" y="568"/><use href="#n" x="1043" y="557"/><use href="#n" x="1048" y="573"/><use href="#n" x="1020" y="582"/><use href="#n" x="1032" y="587"/><use href="#n" x="1007" y="587"/><use href="#n" x="985" y="590"/><use href="#n" x="1003" y="607"/><use href="#n" x="977" y="612"/><use href="#n" x="982" y="618"/><use href="#n" x="972" y="630"/><use href="#n" x="970" y="640"/><use href="#n" x="957" y="637"/><use href="#n" x="942" y="647"/><use href="#n" x="933" y="642"/><use href="#n" x="922" y="637"/><use href="#n" x="933" y="603"/><use href="#n" x="942" y="613"/><use href="#n" x="932" y="622"/><use href="#n" x="950" y="625"/><use href="#n" x="1053" y="593"/><use href="#n" x="1063" y="585"/><use href="#n" x="1050" y="610"/><use href="#n" x="1065" y="610"/><use href="#n" x="1067" y="627"/><use href="#n" x="1053" y="633"/><use href="#n" x="1035" y="622"/><use href="#n" x="1017" y="638"/><use href="#n" x="1035" y="648"/><use href="#n" x="1023" y="660"/><use href="#n" x="1035" y="669"/><use href="#n" x="1050" y="667"/><use href="#n" x="993" y="663"/><use href="#n" x="985" y="653"/><use href="#n" x="968" y="663"/><use href="#n" x="972" y="670"/><use href="#n" x="953" y="668"/><use href="#n" x="940" y="668"/><use href="#n" x="920" y="658"/><use href="#n" x="910" y="662"/><use href="#n" x="923" y="670"/><use href="#n" x="925" y="687"/><use href="#n" x="930" y="698"/><use href="#n" x="940" y="683"/><use href="#n" x="948" y="683"/><use href="#n" x="962" y="685"/><use href="#n" x="978" y="683"/><use href="#n" x="990" y="692"/><use href="#n" x="975" y="697"/><use href="#n" x="963" y="702"/><use href="#n" x="952" y="703"/><use href="#n" x="952" y="712"/><use href="#n" x="948" y="718"/><use href="#n" x="957" y="720"/><use href="#n" x="977" y="712"/><use href="#n" x="978" y="720"/><use href="#n" x="965" y="738"/><use href="#n" x="953" y="732"/><use href="#n" x="980" y="747"/><use href="#n" x="995" y="753"/><use href="#n" x="1003" y="733"/><use href="#n" x="1008" y="713"/><use href="#n" x="1022" y="723"/><use href="#n" x="1023" y="737"/><use href="#n" x="1027" y="712"/><use href="#n" x="1018" y="683"/><use href="#n" x="1043" y="692"/><use href="#n" x="1043" y="700"/><use href="#n" x="1052" y="712"/><use href="#n" x="1042" y="723"/><use href="#n" x="1067" y="725"/><use href="#n" x="1048" y="743"/><use href="#n" x="1063" y="743"/><use href="#n" x="1077" y="750"/><use href="#n" x="1068" y="763"/><use href="#n" x="1083" y="762"/><use href="#n" x="1097" y="758"/><use href="#n" x="1093" y="740"/><use href="#n" x="1087" y="725"/><use href="#n" x="1090" y="710"/><use href="#n" x="1083" y="698"/><use href="#n" x="1073" y="677"/><use href="#n" x="1097" y="673"/><use href="#n" x="1090" y="663"/><use href="#n" x="1080" y="658"/><use href="#n" x="1115" y="687"/><use href="#n" x="1117" y="665"/><use href="#n" x="1130" y="666"/><use href="#n" x="1148" y="687"/><use href="#n" x="1162" y="682"/><use href="#n" x="1150" y="655"/><use href="#n" x="1160" y="657"/><use href="#n" x="1172" y="653"/><use href="#n" x="1177" y="700"/><use href="#n" x="1160" y="715"/><use href="#n" x="1140" y="715"/><use href="#n" x="1127" y="712"/><use href="#n" x="1120" y="725"/><use href="#n" x="1108" y="715"/><use href="#n" x="1150" y="737"/><use href="#n" x="1168" y="747"/><use href="#n" x="1113" y="748"/><use href="#n" x="1130" y="751"/><use href="#n" x="1152" y="757"/><use href="#n" x="1145" y="768"/><use href="#n" x="1125" y="770"/><use href="#n" x="1113" y="773"/><use href="#n" x="1102" y="778"/><use href="#n" x="1112" y="787"/><use href="#n" x="1107" y="793"/><use href="#n" x="1130" y="783"/><use href="#n" x="1140" y="787"/><use href="#n" x="1153" y="785"/><use href="#n" x="1167" y="770"/><use href="#n" x="1155" y="800"/><use href="#n" x="1168" y="795"/><use href="#n" x="1172" y="803"/><use href="#n" x="1160" y="813"/><use href="#n" x="1147" y="813"/><use href="#n" x="1132" y="813"/><use href="#n" x="1118" y="809"/><use href="#n" x="1108" y="809"/><use href="#n" x="1100" y="807"/><use href="#n" x="1087" y="805"/><use href="#n" x="1077" y="803"/><use href="#n" x="1070" y="793"/><use href="#n" x="1060" y="788"/><use href="#n" x="1055" y="797"/><use href="#n" x="1043" y="790"/><use href="#n" x="1032" y="787"/><use href="#n" x="1020" y="778"/><use href="#n" x="1035" y="772"/><use href="#n" x="1055" y="768"/><use href="#n" x="1042" y="758"/><use href="#n" x="1027" y="759"/><use href="#n" x="1010" y="753"/><use href="#n" x="1000" y="765"/><use href="#n" x="1007" y="770"/><use href="#n" x="1017" y="762"/><use href="#n" x="990" y="750"/><use href="#n" x="1102" y="600"/><use href="#n" x="1097" y="580"/><use href="#n" x="1100" y="568"/><use href="#n" x="1130" y="567"/><use href="#n" x="1140" y="582"/><use href="#n" x="1137" y="592"/><use href="#n" x="1145" y="603"/><use href="#n" x="1162" y="602"/><use href="#n" x="1177" y="590"/><use href="#n" x="1137" y="622"/><use href="#n" x="1138" y="640"/><use href="#n" x="1113" y="620"/><use href="#n" x="1093" y="632"/><use href="#n" x="1110" y="648"/><use href="#n" x="1082" y="548"/><use href="#n" x="1093" y="548"/><use href="#n" x="1120" y="550"/>
<use href="#n" x="1187" y="543"/><use href="#n" x="1188" y="557"/><use href="#n" x="1230" y="545"/><use href="#n" x="1345" y="553"/><use href="#n" x="1322" y="556"/><use href="#n" x="1303" y="557"/><use href="#n" x="1250" y="560"/><use href="#n" x="1232" y="573"/><use href="#n" x="1248" y="578"/><use href="#n" x="1278" y="583"/><use href="#n" x="1308" y="580"/><use href="#n" x="1315" y="578"/><use href="#n" x="1313" y="593"/><use href="#n" x="1338" y="592"/><use href="#n" x="1358" y="580"/><use href="#n" x="1360" y="597"/><use href="#n" x="1377" y="582"/><use href="#n" x="1390" y="577"/><use href="#n" x="1382" y="568"/><use href="#n" x="1395" y="555"/><use href="#n" x="1408" y="563"/><use href="#n" x="1417" y="557"/><use href="#n" x="1420" y="573"/><use href="#n" x="1413" y="583"/><use href="#n" x="1420" y="587"/><use href="#n" x="1408" y="600"/><use href="#n" x="1395" y="592"/><use href="#n" x="1388" y="600"/><use href="#n" x="1377" y="602"/><use href="#n" x="1370" y="622"/><use href="#n" x="1377" y="612"/><use href="#n" x="1398" y="612"/><use href="#n" x="1408" y="612"/><use href="#n" x="1393" y="625"/><use href="#n" x="1408" y="628"/><use href="#n" x="1402" y="635"/><use href="#n" x="1392" y="642"/><use href="#n" x="1393" y="657"/><use href="#n" x="1383" y="670"/><use href="#n" x="1373" y="650"/><use href="#n" x="1363" y="647"/><use href="#n" x="1353" y="647"/><use href="#n" x="1342" y="665"/><use href="#n" x="1328" y="660"/><use href="#n" x="1317" y="667"/><use href="#n" x="1308" y="653"/><use href="#n" x="1295" y="647"/><use href="#n" x="1293" y="673"/><use href="#n" x="1300" y="695"/><use href="#n" x="1307" y="697"/><use href="#n" x="1285" y="690"/><use href="#n" x="1280" y="697"/><use href="#n" x="1275" y="680"/><use href="#n" x="1260" y="655"/><use href="#n" x="1277" y="652"/><use href="#n" x="1252" y="672"/><use href="#n" x="1232" y="668"/><use href="#n" x="1232" y="653"/><use href="#n" x="1210" y="658"/><use href="#n" x="1193" y="663"/><use href="#n" x="1193" y="643"/><use href="#n" x="1178" y="680"/><use href="#n" x="1210" y="687"/><use href="#n" x="1243" y="690"/><use href="#n" x="1247" y="713"/><use href="#n" x="1262" y="715"/><use href="#n" x="1263" y="707"/><use href="#n" x="1232" y="708"/><use href="#n" x="1232" y="722"/><use href="#n" x="1212" y="703"/><use href="#n" x="1205" y="715"/><use href="#n" x="1177" y="715"/><use href="#n" x="1193" y="732"/><use href="#n" x="1208" y="733"/><use href="#n" x="1220" y="738"/><use href="#n" x="1230" y="749"/><use href="#n" x="1248" y="750"/><use href="#n" x="1260" y="738"/><use href="#n" x="1275" y="742"/><use href="#n" x="1278" y="723"/><use href="#n" x="1303" y="718"/><use href="#n" x="1317" y="722"/><use href="#n" x="1332" y="713"/><use href="#n" x="1323" y="708"/><use href="#n" x="1345" y="713"/><use href="#n" x="1352" y="722"/><use href="#n" x="1363" y="703"/><use href="#n" x="1363" y="697"/><use href="#n" x="1348" y="700"/><use href="#n" x="1340" y="688"/><use href="#n" x="1347" y="680"/><use href="#n" x="1333" y="678"/><use href="#n" x="1360" y="687"/><use href="#n" x="1375" y="690"/><use href="#n" x="1383" y="678"/><use href="#n" x="1373" y="673"/><use href="#n" x="1330" y="732"/><use href="#n" x="1315" y="738"/><use href="#n" x="1303" y="740"/><use href="#n" x="1287" y="743"/><use href="#n" x="1292" y="748"/><use href="#n" x="1285" y="757"/><use href="#n" x="1307" y="760"/><use href="#n" x="1297" y="767"/><use href="#n" x="1277" y="770"/><use href="#n" x="1267" y="780"/><use href="#n" x="1257" y="788"/><use href="#n" x="1247" y="790"/><use href="#n" x="1237" y="780"/><use href="#n" x="1222" y="770"/><use href="#n" x="1207" y="760"/><use href="#n" x="1197" y="757"/><use href="#n" x="1182" y="757"/><use href="#n" x="1170" y="745"/><use href="#n" x="1170" y="770"/><use href="#n" x="1175" y="778"/><use href="#n" x="1185" y="783"/><use href="#n" x="1203" y="782"/><use href="#n" x="1215" y="790"/><use href="#n" x="1222" y="800"/><use href="#n" x="1232" y="793"/><use href="#n" x="1202" y="807"/><use href="#n" x="1183" y="808"/><use href="#n" x="1170" y="807"/><use href="#n" x="1252" y="767"/><use href="#n" x="1248" y="762"/><use href="#n" x="1260" y="757"/><use href="#n" x="1315" y="748"/><use href="#n" x="1323" y="630"/><use href="#n" x="1345" y="625"/><use href="#n" x="1347" y="630"/><use href="#n" x="1300" y="628"/><use href="#n" x="1253" y="628"/><use href="#n" x="1263" y="633"/><use href="#n" x="1208" y="635"/><use href="#n" x="1212" y="623"/><use href="#n" x="1185" y="620"/><use href="#n" x="1203" y="582"/><use href="#n" x="1195" y="595"/><use href="#n" x="1218" y="600"/><use href="#n" x="1232" y="600"/><use href="#n" x="1248" y="600"/><use href="#n" x="1262" y="605"/><use href="#n" x="1282" y="602"/><use href="#n" x="1288" y="608"/><use href="#n" x="1290" y="615"/><use href="#n" x="1315" y="612"/><use href="#n" x="1333" y="617"/>
</g>
<g id="hub-igraph"><circle class="hub" cx="1147" cy="535" r="14.3" fill="#386cb0"/><use href="#n" x="1166" y="530" fill="#386cb0"/><use href="#n" x="1150" y="546" fill="#386cb0"/></g>
<g id="nodes-igraph-network" fill="#f0027f">
<use href="#n" x="888" y="440"/><use href="#n" x="885" y="453"/><use href="#n" x="893" y="457"/><use href="#n" x="882" y="470"/><use href="#n" x="888" y="473"/><use href="#n" x="895" y="474"/><use href="#n" x="873" y="484"/><use href="#n" x="885" y="488"/><use href="#n" x="880" y="499"/><use href="#n" x="893" y="499"/><use href="#n" x="887" y="507"/><use href="#n" x="882" y="515"/><use href="#n" x="897" y="517"/><use href="#n" x="861" y="523"/><use href="#n" x="875" y="527"/><use href="#n" x="880" y="523"/><use href="#n" x="889" y="530"/><use href="#n" x="895" y="520"/><use href="#n" x="883" y="537"/><use href="#n" x="886" y="544"/><use href="#n" x="872" y="547"/><use href="#n" x="897" y="555"/><use href="#n" x="885" y="560"/><use href="#n" x="873" y="563"/><use href="#n" x="877" y="568"/><use href="#n" x="887" y="568"/><use href="#n" x="898" y="572"/><use href="#n" x="903" y="573"/><use href="#n" x="890" y="583"/><use href="#n" x="878" y="588"/><use href="#n" x="888" y="590"/><use href="#n" x="900" y="592"/><use href="#n" x="880" y="597"/><use href="#n" x="903" y="603"/><use href="#n" x="890" y="602"/><use href="#n" x="892" y="613"/><use href="#n" x="885" y="620"/><use href="#n" x="900" y="619"/><use href="#n" x="887" y="625"/><use href="#n" x="898" y="628"/><use href="#n" x="893" y="637"/>
</g>
<g id="nodes-graph-igraph-network" fill="#fdc086"><use href="#n" x="907" y="393"/><use href="#n" x="897" y="443"/></g>
<g id="legend">
<g stroke="#000" stroke-width="1.5">
<circle cx="537" cy="892" r="14.3" fill="#7fc97f"/>
<circle cx="752" cy="892" r="14.3" fill="#fdc086"/>
<circle cx="1065" cy="892" r="14.3" fill="#386cb0"/>
<circle cx="1301" cy="892" r="14.3" fill="#bf5b17"/>
<circle cx="537" cy="937" r="14.3" fill="#beaed4"/>
<circle cx="752" cy="937" r="14.3" fill="#ffff99"/>
<circle cx="1065" cy="937" r="14.3" fill="#f0027f"/>
</g>
<text class="lg" x="576" y="900">graph</text>
<text class="lg" x="790" y="900">graph+igraph+network</text>
<text class="lg" x="1103" y="900">igraph</text>
<text class="lg" x="1339" y="900">network</text>
<text class="lg" x="576" y="945">graph+igraph</text>
<text class="lg" x="790" y="945">graph+network</text>
<text class="lg" x="1103" y="945">igraph+network</text>
</g>
</svg>
